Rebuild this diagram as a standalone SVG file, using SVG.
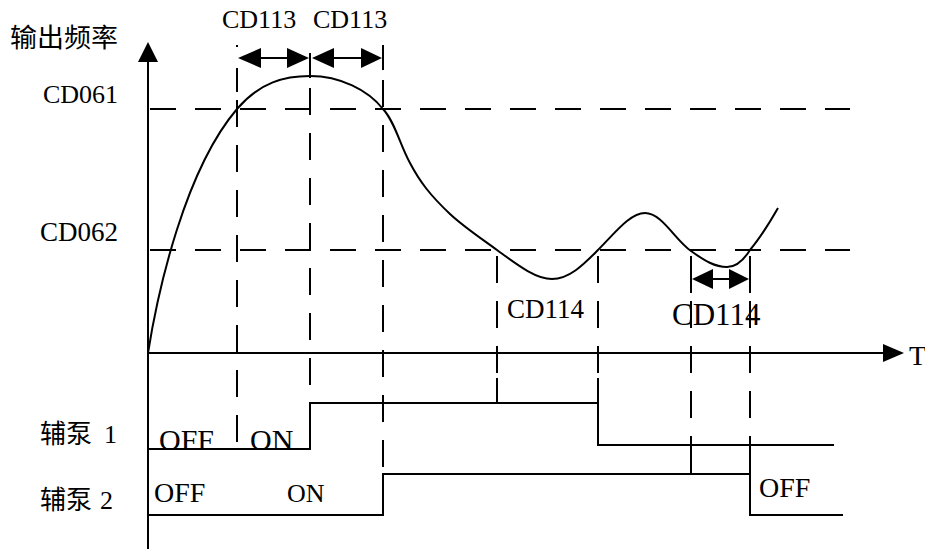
<svg xmlns="http://www.w3.org/2000/svg" width="925" height="549" viewBox="0 0 925 549">
<style>
.ln{stroke:#000;stroke-width:2;fill:none}
.dv{stroke:#000;stroke-width:2;fill:none;stroke-dasharray:27 18}
.dh{stroke:#000;stroke-width:2;fill:none;stroke-dasharray:26 19}
.hd{fill:#000;stroke:none}
.t{font-family:"Liberation Serif","Times New Roman",serif;fill:#000}
.c{font-family:"Noto Sans CJK SC","Noto Sans CJK TC",sans-serif;fill:#000}
</style>
<rect width="925" height="549" fill="#fff"/>
<g id="axes">
<line class="ln" x1="148" y1="58" x2="148" y2="549"/>
<polygon class="hd" points="148,42 138,62 158,62"/>
<line class="ln" x1="148" y1="353" x2="887" y2="353"/>
<polygon class="hd" points="904,353 883,344 883,362"/>
</g>
<g id="connectors">
<line class="dh" x1="150" y1="109" x2="850" y2="109"/>
<line class="dh" x1="150" y1="250" x2="850" y2="250"/>
<line class="ln" x1="237" y1="45" x2="237" y2="47"/>
<line class="ln" x1="237" y1="68" x2="237" y2="92"/>
<line class="dv" x1="237" y1="100" x2="237" y2="448"/>
<line class="ln" x1="310" y1="53" x2="310" y2="78"/>
<line class="dv" x1="310" y1="88" x2="310" y2="403"/>
<line class="ln" x1="383" y1="45" x2="383" y2="70"/>
<line class="dv" x1="383" y1="80" x2="383" y2="474"/>
<line class="dv" x1="497" y1="250" x2="497" y2="403" stroke-dashoffset="-6"/>
<line class="dv" x1="598" y1="250" x2="598" y2="403" stroke-dashoffset="-6"/>
<line class="dv" x1="691" y1="250" x2="691" y2="474" stroke-dashoffset="-6"/>
<line class="dv" x1="750" y1="250" x2="750" y2="474" stroke-dashoffset="-6"/>
<line class="ln" x1="691" y1="265" x2="691" y2="293"/>
<line class="ln" x1="750" y1="265" x2="750" y2="293"/>
<line class="ln" x1="497" y1="378" x2="497" y2="403"/>
<line class="ln" x1="598" y1="378" x2="598" y2="403"/>
<line class="ln" x1="691" y1="448" x2="691" y2="474"/>
<line class="ln" x1="750" y1="445" x2="750" y2="474"/>
<line class="ln" x1="258" y1="58" x2="290" y2="58"/>
<polygon class="hd" points="238,58 261,48 261,68"/>
<polygon class="hd" points="309,58 287,48 287,68"/>
<line class="ln" x1="332" y1="58" x2="364" y2="58"/>
<polygon class="hd" points="312,58 334,48 334,68"/>
<polygon class="hd" points="382,58 361,48 361,68"/>
<line class="ln" x1="710" y1="279" x2="732" y2="279"/>
<polygon class="hd" points="692,279 713,269 713,289"/>
<polygon class="hd" points="749,279 729,269 729,289"/>
</g>
<g id="curve">
<path class="ln" d="M148,353 C158,290 185,170 237,109 C260,82 285,76 310,76 C340,76 368,90 383,109 C395,122 400,145 410,163 C420,182 430,195 450,214 C465,228 485,241 497,250 C515,263 535,279 552,279 C570,279 585,263 598,250 C615,233 630,213 645,213 C662,213 675,240 691,251 C705,261 715,267 727,267 C737,267 745,258 750,250 C760,238 770,222 778,208"/>
</g>
<g id="signal1">
<polyline class="ln" points="148,449 310,449 310,403 598,403 598,445 834,445"/>
</g>
<g id="signal2">
<polyline class="ln" points="148,515 383,515 383,474 750,474 750,515 843,515"/>
</g>
<g id="labels">
<text class="c" x="10" y="47" font-size="26" textLength="108" lengthAdjust="spacingAndGlyphs">输出频率</text>
<text class="t" x="222" y="28" font-size="26">CD113</text>
<text class="t" x="313" y="28" font-size="26">CD113</text>
<text class="t" x="43" y="103" font-size="26">CD061</text>
<text class="t" x="40" y="241" font-size="27">CD062</text>
<text class="t" x="507" y="318" font-size="27">CD114</text>
<text class="t" x="672" y="325" font-size="31">CD114</text>
<text class="t" x="909" y="365" font-size="28">T</text>
<text class="c" x="40" y="443" font-size="26">辅泵</text>
<text class="t" x="104" y="443" font-size="26">1</text>
<text class="c" x="40" y="509" font-size="26">辅泵</text>
<text class="t" x="100" y="509" font-size="26">2</text>
<text class="t" x="159" y="450" font-size="30">OFF</text>
<text class="t" x="250" y="450" font-size="30">ON</text>
<text class="t" x="154" y="502" font-size="28">OFF</text>
<text class="t" x="287" y="502" font-size="26">ON</text>
<text class="t" x="759" y="497" font-size="28">OFF</text>
</g>
</svg>
